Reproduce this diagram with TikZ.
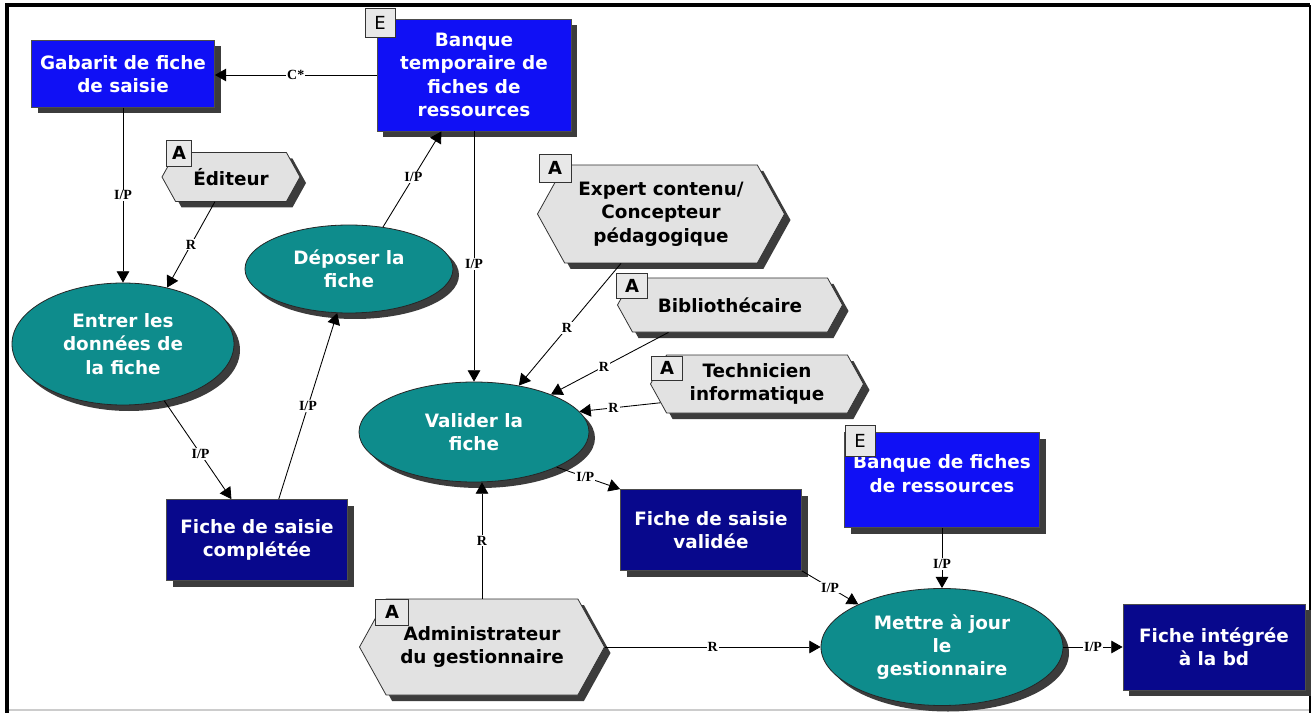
\documentclass[tikz,border=0pt]{standalone}
\usepackage{fontspec}
\setmainfont{DejaVu Sans}
\newfontfamily\edgefont{Liberation Serif}
\usetikzlibrary{shapes.geometric,shapes.symbols,shadows,arrows.meta,calc}

\definecolor{procblue}{RGB}{16,16,245}
\definecolor{navyfill}{RGB}{8,8,140}
\definecolor{tealfill}{RGB}{14,140,140}
\definecolor{actorgray}{RGB}{226,226,226}
\definecolor{tagfill}{RGB}{232,232,232}
\definecolor{shade}{RGB}{60,60,60}

% one drawing unit = one screen pixel
\def\pxu{0.75pt}

\tikzset{
  base/.style={font=\bfseries\fontsize{13.8}{17.5}\selectfont, align=center,
               inner sep=2pt, line width=0.6pt},
  shadowed/.style={drop shadow={shadow xshift=4.5pt, shadow yshift=-4.5pt,
               fill=shade, opacity=1}},
  entity/.style={base, shadowed, rectangle, fill=procblue, draw=black!70, text=white},
  product/.style={base, shadowed, rectangle, fill=navyfill, draw=black!70, text=white},
  process/.style={base, shadowed, ellipse, fill=tealfill, draw=black!85, text=white},
  actor/.style={base, shadowed, signal, signal to=east and west,
               signal pointer angle=122, fill=actorgray, draw=black!80, text=black},
  tag/.style={rectangle, draw=black!80, fill=tagfill,
              font=\fontsize{13.5}{13.5}\selectfont, inner sep=0pt, line width=0.6pt},
  atag/.style={tag, font=\bfseries\fontsize{13.5}{13.5}\selectfont},
  flow/.style={draw=black, line width=0.65pt, -{Triangle[length=8.5pt,width=9.5pt]}},
  lbl/.style={font=\edgefont\bfseries\fontsize{10.5}{11}\selectfont, fill=white, inner sep=0.8pt},
}

\begin{document}
\begin{tikzpicture}[x=0.75pt, y=-0.75pt]
  % page and window frame
  \fill[white] (0,0) rectangle (1315,713);
  \useasboundingbox (0,0) rectangle (1315,713);
  \draw[black!20, line width=1pt] (7,710) -- (1310,710);
  \draw[black, line width=1.2pt] (1310,5) -- (1310,713);
  \draw[black, line width=2.6pt] (7,713) -- (7,5) -- (1310,5);

  % entities and products
  \node[entity, minimum width=183*\pxu, minimum height=67*\pxu] (gab) at (123,74)
    {Gabarit de fiche\\de saisie};
  \node[entity, minimum width=194*\pxu, minimum height=112*\pxu] (bt) at (474,75)
    {Banque\\temporaire de\\fiches de\\ressources};
  \node[tag, minimum width=30*\pxu, minimum height=29*\pxu] (tagbt) at (380,23) {E};

  \node[product, minimum width=181*\pxu, minimum height=81*\pxu] (comp) at (257,540)
    {Fiche de saisie\\complétée};
  \node[product, minimum width=181*\pxu, minimum height=81*\pxu] (valid) at (711,530)
    {Fiche de saisie\\validée};
  \node[entity, minimum width=195*\pxu, minimum height=95*\pxu] (bfr) at (942,480)
    {Banque de fiches\\de ressources\\[-8pt]~};
  \node[tag, minimum width=30*\pxu, minimum height=31*\pxu] (tagbfr) at (860,441) {E};
  \node[product, minimum width=182*\pxu, minimum height=86*\pxu] (integ) at (1214,647)
    {Fiche intégrée\\à la bd};

  % processes
  \node[process, minimum width=222*\pxu, minimum height=122*\pxu] (entrer) at (123,344)
    {Entrer les\\données de\\la fiche};
  \node[process, minimum width=208*\pxu, minimum height=88*\pxu] (deposer) at (349,269)
    {Déposer la\\fiche};
  \node[process, minimum width=230*\pxu, minimum height=100*\pxu] (valider) at (474,432)
    {Valider la\\fiche};
  \node[process, minimum width=242*\pxu, minimum height=117*\pxu] (mettre) at (942,647)
    {Mettre à jour\\le\\gestionnaire};

  % actors
  \node[actor, minimum width=138*\pxu, minimum height=49*\pxu] (edit) at (231,177) {Éditeur};
  \node[atag, minimum width=25*\pxu, minimum height=26*\pxu] (tagedit) at (179,153) {A};

  \node[actor, minimum width=247*\pxu, minimum height=98*\pxu] (expert) at (661,214)
    {Expert contenu/\\Concepteur\\pédagogique};
  \node[atag, minimum width=32*\pxu, minimum height=28*\pxu] (tagexpert) at (555,168) {A};

  \node[actor, minimum width=225*\pxu, minimum height=54*\pxu] (biblio) at (730,305)
    {Bibliothécaire};
  \node[atag, minimum width=31*\pxu, minimum height=25*\pxu] (tagbiblio) at (632,286) {A};

  \node[actor, minimum width=213*\pxu, minimum height=58*\pxu] (tech) at (757,384)
    {Technicien\\informatique};
  \node[atag, minimum width=31*\pxu, minimum height=24*\pxu] (tagtech) at (667,368) {A};

  \node[actor, minimum width=245*\pxu, minimum height=96*\pxu] (admin) at (482,647)
    {Administrateur\\du gestionnaire};
  \node[atag, minimum width=33*\pxu, minimum height=26*\pxu] (tagadmin) at (392,612) {A};

  % flows
  \draw[flow] (bt.west) -- (bt.west -| gab.east) node[lbl, pos=.5] {C*};
  \draw[flow] (gab.south) -- (entrer.north) node[lbl, pos=.5] {I/P};
  \draw[flow] (edit.-123) -- (entrer.52) node[lbl, pos=.5] {R};
  \draw[flow] (deposer.51) -- (bt.-120) node[lbl, pos=.52] {I/P};
  \draw[flow] (bt.south) -- (valider.north) node[lbl, pos=.53] {I/P};
  \draw[flow] (entrer.-54) -- (comp.122) node[lbl, pos=.54] {I/P};
  \draw[flow] (comp.62) -- (deposer.-105) node[lbl, pos=.5] {I/P};
  \draw[flow] (expert.-129) -- (valider.46) node[lbl, pos=.53] {R};
  \draw[flow] (biblio.-156) -- (valider.26) node[lbl, pos=.55] {R};
  \draw[flow] (tech.-169) -- (valider.11) node[lbl, pos=.58] {R};
  \draw[flow] (valider.-23) -- (valid.north west) node[lbl, pos=.45] {I/P};
  \draw[flow] (bfr.south) -- (mettre.north) node[lbl, pos=.6] {I/P};
  \draw[flow] (valid.south east) -- (mettre.153) node[lbl, pos=.5] {I/P};
  \draw[flow] (admin.north) -- (admin.north |- valider.south) node[lbl, pos=.5] {R};
  \draw[flow] (admin.east) -- (mettre.west) node[lbl, pos=.5] {R};
  \draw[flow] (mettre.east) -- (integ.west) node[lbl, pos=.5] {I/P};
\end{tikzpicture}
\end{document}
